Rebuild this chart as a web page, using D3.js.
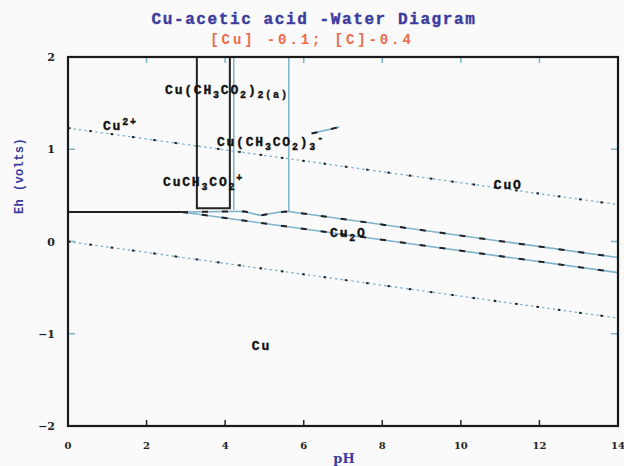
<!DOCTYPE html>
<html><head><meta charset="utf-8">
<script src="https://cdn.jsdelivr.net/npm/d3@7"></script>
<style>
html,body{margin:0;padding:0;background:#fafafa;}
svg{display:block;}
</style></head>
<body>
<svg id="c" width="624" height="466"></svg>
<script>
const titleText = "Cu-acetic acid -Water Diagram";
const subtitleText = "[Cu] -0.1; [C]-0.4";
const xTicks = [0,2,4,6,8,10,12,14];
const yTicks = [-2,-1,0,1,2];
const waterUpper = [[0,1.23],[14,0.40]];
const waterLower = [[0,0],[14,-0.83]];
const cuHoriz = [[0,0.32],[2.9,0.32]];
const boxLine = [[3.28,2],[3.28,0.36],[4.12,0.36],[4.12,2]];
const vertA = [[4.22,2],[4.22,0.34]];
const vertB = [[5.62,2],[5.62,0.325]];
const upperLine = [[2.9,0.32],[4.12,0.326],[4.5,0.326],[4.89,0.283],[5.4,0.32],[5.62,0.325],[14,-0.174]];
const lowerLine = [[2.9,0.32],[14,-0.337]];
const tailLine = [[6.2,1.17],[6.9,1.24]];
// labels: segments [text, kind] kind: n normal, b sub, p sup
const labels = [
  {pH:2.47, Eh:1.64, parts:[["Cu(CH","n"],["3","b"],["CO","n"],["2","b"],[")","n"],["2(a)","b"]]},
  {pH:0.89, Eh:1.25, parts:[["Cu","n"],["2+","p"]]},
  {pH:3.79, Eh:1.08, parts:[["Cu(CH","n"],["3","b"],["CO","n"],["2","b"],[")","n"],["3","b"],["-","p"]]},
  {pH:2.42, Eh:0.645, parts:[["CuCH","n"],["3","b"],["CO","n"],["2","b"],["+","p"]]},
  {pH:10.84, Eh:0.61, parts:[["CuO","n"]]},
  {pH:6.67, Eh:0.09, parts:[["Cu","n"],["2","b"],["O","n"]]},
  {pH:4.68, Eh:-1.13, parts:[["Cu","n"]]}
];

const svg = d3.select("#c");
const x = d3.scaleLinear().domain([0,14]).range([68,618]);
const y = d3.scaleLinear().domain([-2,2]).range([426,57]);
const line = d3.line().x(d=>x(d[0])).y(d=>y(d[1]));
const mono = "'Liberation Mono','DejaVu Sans Mono',monospace";
const blue = "#7fb2cc";

// title
svg.append("text").attr("x",314).attr("y",24).attr("text-anchor","middle")
  .attr("font-family",mono).attr("font-weight","bold").attr("font-size",16).attr("letter-spacing",1.6)
  .attr("fill","#3b3c9e").attr("stroke","#3b3c9e").attr("stroke-width",0.4).text(titleText);
svg.append("text").attr("x",312).attr("y",44).attr("text-anchor","middle")
  .attr("font-family",mono).attr("font-weight","bold").attr("font-size",14).attr("letter-spacing",2.9)
  .attr("fill","#ee6a4a").text(subtitleText);

// inner ticks
const g = svg.append("g");
xTicks.slice(1,-1).forEach(t=>{
  g.append("line").attr("x1",x(t)).attr("x2",x(t)).attr("y1",y(-2)).attr("y2",y(-2)-6).attr("stroke","#222").attr("stroke-width",1.5);
  g.append("line").attr("x1",x(t)).attr("x2",x(t)).attr("y1",y(2)).attr("y2",y(2)+6).attr("stroke",blue).attr("stroke-width",1.5);
});
yTicks.slice(1,-1).forEach(t=>{
  g.append("line").attr("x1",x(0)).attr("x2",x(0)+7).attr("y1",y(t)).attr("y2",y(t)).attr("stroke",blue).attr("stroke-width",1.5);
  g.append("line").attr("x1",x(14)).attr("x2",x(14)-7).attr("y1",y(t)).attr("y2",y(t)).attr("stroke",blue).attr("stroke-width",1.5);
});

// water lines
[waterUpper, waterLower].forEach(d=>{
  svg.append("path").attr("d",line(d)).attr("fill","none").attr("stroke",blue).attr("stroke-width",1.3).attr("stroke-dasharray","2.5,3");
  svg.append("path").attr("d",line(d)).attr("fill","none").attr("stroke","#222").attr("stroke-width",2).attr("stroke-dasharray","2.5,19");
});

// boundary lines (blue with black dashes)
[upperLine, lowerLine, tailLine].forEach(d=>{
  svg.append("path").attr("d",line(d)).attr("fill","none").attr("stroke",blue).attr("stroke-width",1.6);
  svg.append("path").attr("d",line(d)).attr("fill","none").attr("stroke","#222").attr("stroke-width",2).attr("stroke-dasharray","6,14");
});
[vertA, vertB].forEach(d=>{
  svg.append("path").attr("d",line(d)).attr("fill","none").attr("stroke",blue).attr("stroke-width",1.5);
});
[cuHoriz, boxLine].forEach(d=>{
  svg.append("path").attr("d",line(d)).attr("fill","none").attr("stroke","#222").attr("stroke-width",2);
});

// frame
svg.append("rect").attr("x",x(0)).attr("y",y(2)).attr("width",x(14)-x(0)).attr("height",y(-2)-y(2))
  .attr("fill","none").attr("stroke","#1a1a1a").attr("stroke-width",2.2);

// tick labels
const tf = "'DejaVu Serif','Liberation Serif',serif";
xTicks.forEach(t=>{
  svg.append("text").attr("x",x(t)).attr("y",449).attr("text-anchor","middle")
   .attr("font-family",tf).attr("font-weight","bold").attr("font-size",10).attr("fill","#222").text(t);
});
yTicks.forEach(t=>{
  svg.append("text").attr("x",x(0)-13).attr("y",y(t)+4).attr("text-anchor","end")
   .attr("font-family",tf).attr("font-weight","bold").attr("font-size",11).attr("fill","#222").text(t<0?"\u2212"+Math.abs(t):t);
});

// axis titles
svg.append("text").attr("x",344).attr("y",463).attr("text-anchor","middle")
  .attr("font-family",tf).attr("font-weight","bold").attr("font-size",13).attr("fill","#3b3c9e").text("pH");
svg.append("text").attr("transform","translate(23,176) rotate(-90)").attr("text-anchor","middle")
  .attr("font-family",mono).attr("font-weight","bold").attr("font-size",12).attr("letter-spacing",0.4).attr("fill","#3b3c9e").text("Eh (volts)");

// region labels
labels.forEach(l=>{
  const t = svg.append("text").attr("x",x(l.pH)).attr("y",y(l.Eh)+4)
    .attr("font-family",mono).attr("font-weight","bold").attr("font-size",13).attr("fill","#111")
    .attr("stroke","#111").attr("stroke-width",0.35).attr("letter-spacing",1.8);
  let cur = 0;
  l.parts.forEach(p=>{
    const target = p[1]==="b"?4:(p[1]==="p"?-5:0);
    const s = t.append("tspan").text(p[0]).attr("dy", target-cur);
    if(p[1]!=="n") s.attr("font-size",10);
    cur = target;
  });
});
</script>
</body></html>
